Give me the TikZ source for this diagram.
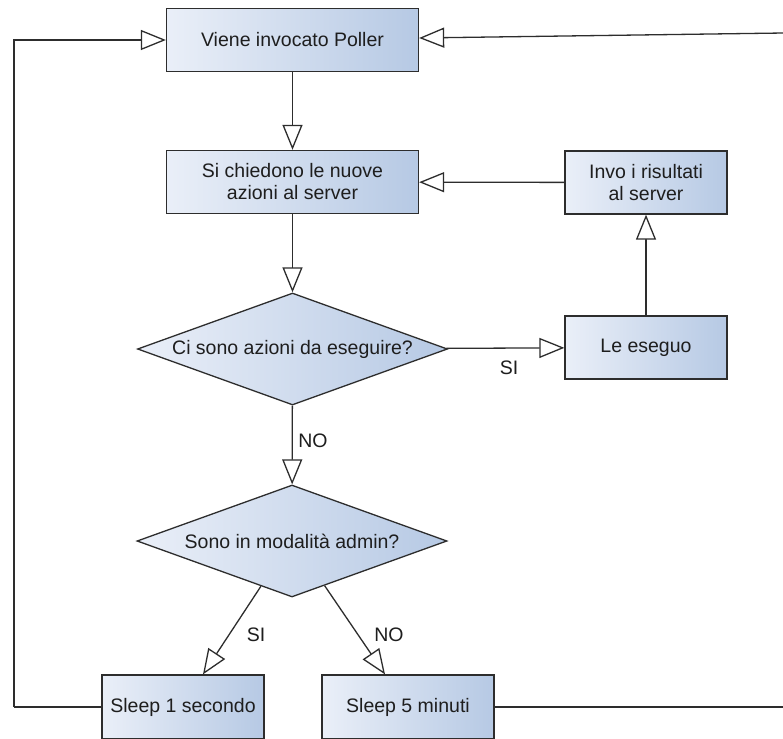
\documentclass[tikz,border=0pt]{standalone}
\usepackage{fontspec}
\setmainfont{Liberation Sans}
\usetikzlibrary{arrows.meta,shapes.geometric,calc}
\definecolor{boxL}{RGB}{234,239,248}
\definecolor{boxR}{RGB}{182,201,228}
\definecolor{edge}{RGB}{45,45,45}
\definecolor{txt}{RGB}{30,30,30}
\tikzset{
  procbox/.style={draw=edge, line width=1.3pt, left color=boxL, right color=boxR,
    minimum height=63pt, inner sep=0pt, align=center, text=txt},
  decision/.style={diamond, draw=edge, line width=1.3pt, left color=boxL, right color=boxR,
    aspect=2.77, minimum width=310pt, minimum height=112pt, inner sep=0pt, text=txt},
  conn/.style={draw=edge, line width=1.3pt},
  arr/.style={conn, -{Triangle[length=25pt,width=20pt,fill=white,line width=1.3pt]}},
  lbl/.style={text=txt, inner sep=0pt}
}
\begin{document}
\begin{tikzpicture}[x=1pt,y=-1pt,font=\fontsize{19.5}{22}\selectfont]
\useasboundingbox (0,0) rectangle (783,738);
\clip (0,0) rectangle (783,738);
\fill[white] (0,0) rectangle (783,738);

\node[procbox, minimum width=252pt] (p) at (292.5,40) {Viene invocato Poller};
\node[procbox, minimum width=252pt] (q) at (292.5,182) {Si chiedono le nuove\\azioni al server};
\node[procbox, minimum width=162pt] (inv) at (646,182.5) {Invo i risultati\\al server};
\node[decision] (d1) at (292.5,349) {Ci sono azioni da eseguire?};
\node[procbox, minimum width=162pt] (le) at (646,347.5) {Le eseguo};
\node[decision] (d2) at (292,541) {Sono in modalità admin?};
\node[procbox, minimum width=162pt, minimum height=64pt] (s1) at (183,707) {Sleep 1 secondo};
\node[procbox, minimum width=172pt, minimum height=64pt] (s5) at (408,707) {Sleep 5 minuti};

\coordinate (lft) at (14,707);
\coordinate (rb) at (784,707);
\coordinate (rt) at (784,33);

\draw[arr] (p) -- (q);
\draw[arr] (q) -- (d1);
\draw[arr] (d1) -- (le);
\draw[arr] (le) -- (inv);
\draw[arr] (inv) -- (q);
\draw[arr] (d1) -- (d2);
\draw[arr] ($(d2.south)!0.2!(d2.west)$) -- ([xshift=20pt]s1.north);
\draw[arr] ($(d2.south)!0.21!(d2.east)$) -- ([xshift=-23pt]s5.north);
\draw[conn] (s1.west) -- (lft);
\draw[arr] (lft) |- (p.west);
\draw[conn] (s5.east) -- (rb);
\draw[arr] (rt) -- ([yshift=2pt]p.east);

\node[lbl] (siA) at (509,368) {SI};
\node[lbl] (noA) at (313,441) {NO};
\node[lbl] (siB) at (256,635) {SI};
\node[lbl] (noB) at (389,635) {NO};
\end{tikzpicture}
\end{document}
